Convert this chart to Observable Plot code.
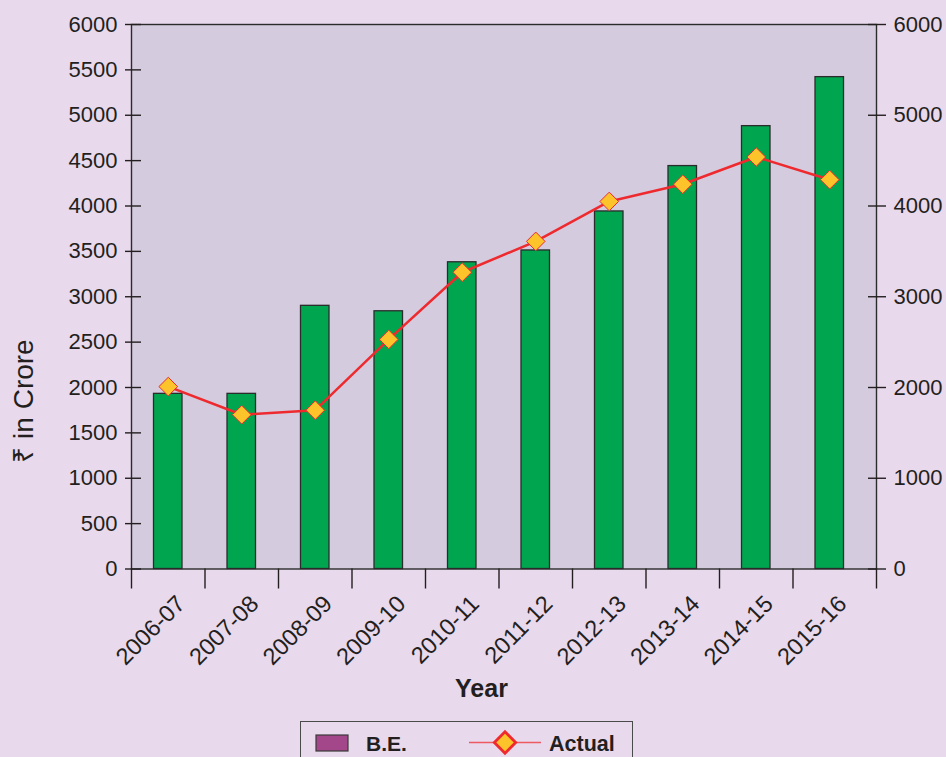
<!DOCTYPE html>
<html>
<head>
<meta charset="utf-8">
<script src="https://cdn.jsdelivr.net/npm/d3@7"></script>
<script src="https://cdn.jsdelivr.net/npm/@observablehq/plot@0.6"></script>
<style>
  html, body { margin: 0; padding: 0; background: #e9d9ec; }
  #wrap { position: relative; width: 946px; height: 757px; overflow: hidden; background: #e9d9ec;
          font-family: "Liberation Sans", Arial, sans-serif; color: #231f20; }
  #wrap svg.plot { display: block; }
  #legend { position: absolute; left: 300px; top: 721px; width: 333px; height: 60px; box-sizing: border-box;
            border: 1.5px solid #4a4a4a; }
  #legend svg { position: absolute; left: 0; top: 0; }
</style>
</head>
<body>
<div id="wrap"></div>
<script>
// ---- data ----
const years = ["2006-07","2007-08","2008-09","2009-10","2010-11","2011-12","2012-13","2013-14","2014-15","2015-16"];
const beValues = [1930, 1930, 2900, 2840, 3380, 3510, 3940, 4440, 4880, 5420];
const actualValues = [2010, 1700, 1750, 2530, 3270, 3610, 4050, 4240, 4540, 4290];
const leftTicks = [0, 500, 1000, 1500, 2000, 2500, 3000, 3500, 4000, 4500, 5000, 5500, 6000];
const rightTicks = [0, 1000, 2000, 3000, 4000, 5000, 6000];
const seriesNames = ["B.E.", "Actual"];
const xTitle = "Year";
const yTitle = "₹ in Crore";

const data = years.map((year, i) => ({year, be: beValues[i], actual: actualValues[i]}));

const step = (866 - 131) / years.length;
const ink = "#231f20";
const fmt = d => String(d);

const plot = Plot.plot({
  width: 946,
  height: 715,
  marginTop: 24,
  marginBottom: 146.5,
  marginLeft: 131,
  marginRight: 70,
  style: { background: "transparent", fontFamily: "'Liberation Sans', Arial, sans-serif", fontSize: "21px", color: ink, overflow: "visible" },
  x: { type: "band", domain: years, padding: 0, round: false, range: [131, 866], label: null },
  y: { domain: [0, 6000], label: null },
  marks: [
    Plot.frame({ fill: "#d4cbde", stroke: "none" }),
    Plot.barY(data, { x: "year", y: "be", fill: "#00a550", stroke: "#2b2b2b", strokeWidth: 1.3, insetLeft: 22.5, insetRight: 22.5 }),
    Plot.line(data, { x: "year", y: "actual", stroke: "#ee2a2f", strokeWidth: 2.5 }),
    Plot.dot(data, { x: "year", y: "actual", symbol: "diamond2", r: 8.4, fill: "#fcc32b", stroke: "#ee2a2f", strokeWidth: 1 }),
    Plot.frame({ stroke: "#2b2b2b", strokeWidth: 1.4 }),
    // left axis
    Plot.axisY(leftTicks, { anchor: "left", tickSize: 16, dx: 10, text: null, stroke: ink, strokeWidth: 1.4 }),
    Plot.axisY(leftTicks, { anchor: "left", tickSize: 0, tickPadding: 14, tickFormat: fmt, fontSize: 22, fill: ink }),
    // right axis
    Plot.axisY(rightTicks, { anchor: "right", tickSize: 18, dx: -9, text: null, stroke: ink, strokeWidth: 1.4 }),
    Plot.axisY(rightTicks, { anchor: "right", tickSize: 0, tickPadding: 17, tickFormat: fmt, fontSize: 22, fill: ink }),
    // x axis: ticks at band boundaries
    Plot.axisX(years, { anchor: "bottom", tickSize: 20, dx: -step / 2, text: null, stroke: ink, strokeWidth: 1.4 }),
    Plot.axisX([years[years.length - 1]], { anchor: "bottom", tickSize: 20, dx: 876 - 866 + step / 2, text: null, stroke: ink, strokeWidth: 1.4 }),
    Plot.axisX(years, { anchor: "bottom", tickSize: 0, tickPadding: 31, dx: 13, tickRotate: -45, fontSize: 23.5, fill: ink })
  ]
});

const svg = d3.select(plot);
svg.append("text")
  .attr("x", 481.5).attr("y", 697)
  .attr("text-anchor", "middle")
  .attr("font-size", 25).attr("font-weight", "bold")
  .attr("fill", ink)
  .text(xTitle);
svg.append("text")
  .attr("transform", "translate(33,401) rotate(-90)")
  .attr("text-anchor", "middle")
  .attr("font-size", 28)
  .attr("fill", ink)
  .text(yTitle);

document.getElementById("wrap").appendChild(plot);

// legend
const legend = d3.select("#wrap").append("div").attr("id", "legend");
const ls = legend.append("svg").attr("width", 333).attr("height", 40)
  .style("font-family", "'Liberation Sans', Arial, sans-serif");
ls.append("rect").attr("x", 15).attr("y", 13).attr("width", 32).attr("height", 16)
  .attr("fill", "#a4478a").attr("stroke", "#3a3a3a").attr("stroke-width", 1.2);
ls.append("text").attr("x", 65).attr("y", 29).attr("font-size", 21).attr("font-weight", "bold").attr("fill", ink).text(seriesNames[0]);
ls.append("line").attr("x1", 168).attr("x2", 240).attr("y1", 20.5).attr("y2", 20.5)
  .attr("stroke", "#ee5a62").attr("stroke-width", 1.5);
ls.append("path").attr("d", d3.symbol(d3.symbolDiamond2, 290)()).attr("transform", "translate(204,20.5)")
  .attr("fill", "#fcc32b").attr("stroke", "#ee2a2f").attr("stroke-width", 2.8);
ls.append("text").attr("x", 248).attr("y", 29).attr("font-size", 21.5).attr("font-weight", "bold").attr("fill", ink).text(seriesNames[1]);
</script>
</body>
</html>
